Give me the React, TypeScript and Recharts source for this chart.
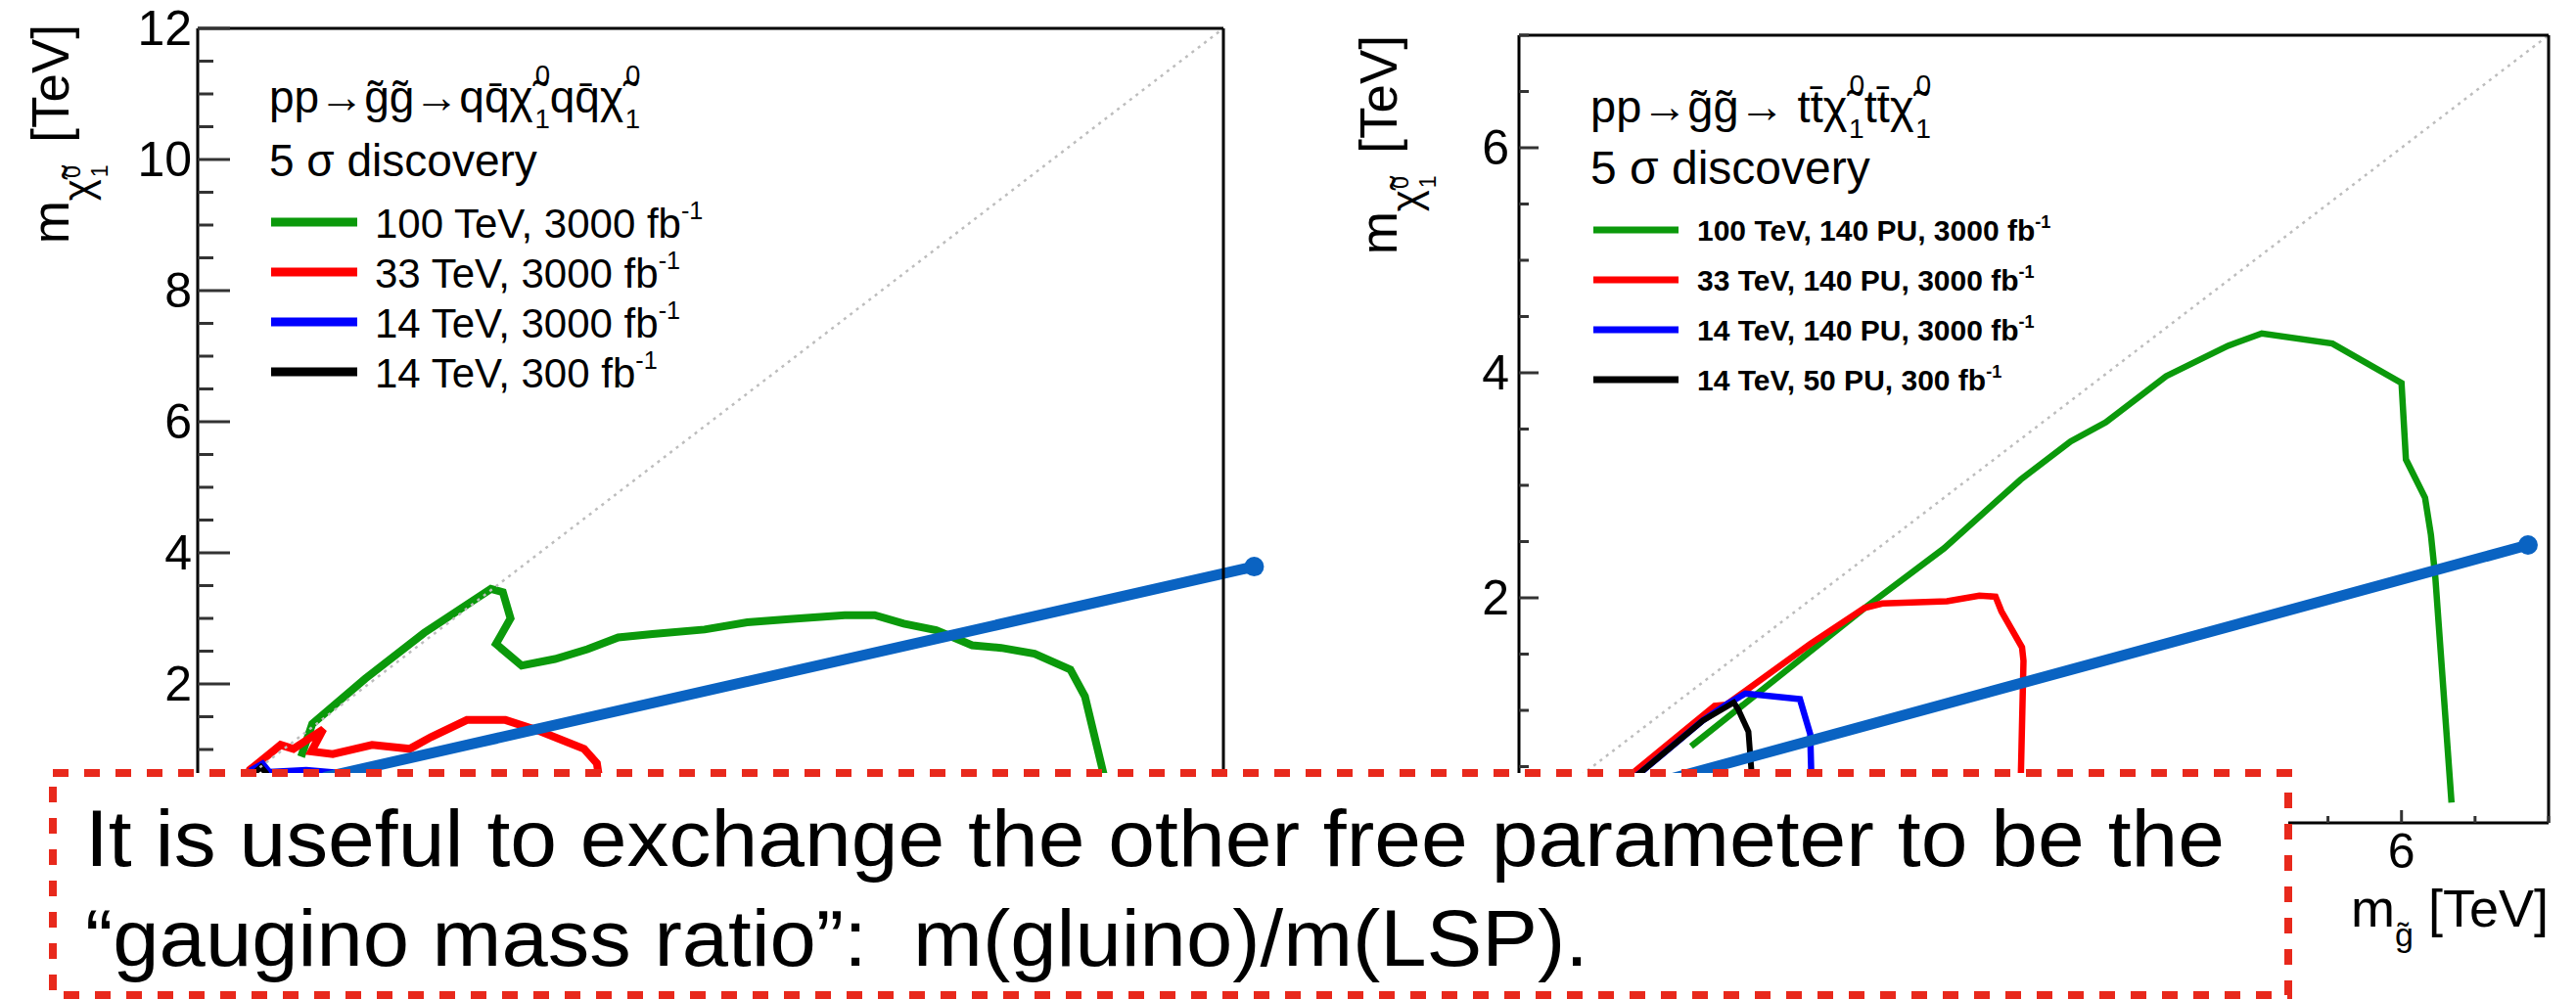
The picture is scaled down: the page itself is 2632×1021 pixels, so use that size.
import { LineChart, Line, XAxis, YAxis, ReferenceLine, ReferenceDot, Legend } from 'recharts';

const FONT = '"Liberation Sans", Arial, Helvetica, sans-serif';

// 5 sigma discovery contours, (m_gluino, m_LSP) in TeV
// gluino -> q qbar chi10
const qq100 = [[1.21, 0.89], [1.34, 1.39], [1.96, 2.08], [2.65, 2.78], [3.43, 3.45], [3.57, 3.4], [3.66, 3.0], [3.49, 2.61], [3.79, 2.28], [4.18, 2.38], [4.56, 2.53], [4.92, 2.71], [5.32, 2.76], [5.93, 2.83], [6.43, 2.94], [6.92, 2.99], [7.57, 3.05], [7.92, 3.05], [8.26, 2.92], [8.64, 2.82], [9.06, 2.59], [9.4, 2.55], [9.79, 2.46], [10.21, 2.22], [10.38, 1.81], [10.59, 0.67], [10.64, 0.4]];
const qq33 = [[0.55, 0.5], [0.61, 0.69], [0.97, 1.07], [1.12, 1.01], [1.47, 1.31], [1.33, 0.97], [1.58, 0.93], [2.04, 1.07], [2.48, 1.01], [2.73, 1.19], [3.15, 1.45], [3.6, 1.45], [3.98, 1.29], [4.52, 1.01], [4.67, 0.79], [4.71, 0.45]];
const qq14 = [[0.55, 0.5], [0.63, 0.69], [0.76, 0.79], [0.84, 0.66], [1.0, 0.67], [1.27, 0.69], [1.62, 0.65], [1.75, 0.45]];
const qq14low = [[0.62, 0.5], [0.66, 0.64], [0.74, 0.73], [0.8, 0.64], [0.84, 0.5]];

// gluino -> t tbar chi10
const tt100 = [[1.17, 0.68], [2.36, 1.92], [2.89, 2.44], [3.41, 3.05], [3.75, 3.39], [3.99, 3.56], [4.4, 3.97], [4.82, 4.24], [5.05, 4.35], [5.53, 4.26], [6.0, 3.91], [6.03, 3.23], [6.16, 2.89], [6.2, 2.56], [6.23, 2.18], [6.34, 0.18]];
const tt33 = [[0.62, 0.28], [0.77, 0.44], [1.33, 1.04], [1.41, 1.05], [1.98, 1.59], [2.35, 1.91], [2.47, 1.95], [2.91, 1.97], [3.13, 2.02], [3.24, 2.01], [3.28, 1.88], [3.42, 1.56], [3.43, 1.44], [3.41, 0.3]];
const tt14 = [[0.68, 0.3], [0.82, 0.44], [1.25, 0.91], [1.42, 1.06], [1.54, 1.15], [1.91, 1.1], [1.98, 0.79], [1.99, 0.3]];
const tt14low = [[0.68, 0.3], [0.82, 0.44], [1.25, 0.91], [1.46, 1.07], [1.49, 1.01], [1.56, 0.81], [1.59, 0.3]];

const qqLabels = ['100 TeV, 3000 fb', '33 TeV, 3000 fb', '14 TeV, 3000 fb', '14 TeV, 300 fb'];
const ttLabels = ['100 TeV, 140 PU, 3000 fb', '33 TeV, 140 PU, 3000 fb', '14 TeV, 140 PU, 3000 fb', '14 TeV, 50 PU, 300 fb'];
const seriesColors = ['#0b990b', '#ff0000', '#0000ff', '#000000'];

// m_LSP = m_gluino
const qqDiagonal = [[0, 0], [12, 12]];
const ttDiagonal = [[0, 0], [7, 7]];
// fixed gaugino mass ratio guide
const qqRatio = [[1.5, 0.58], [12.36, 3.79]];
const ttRatio = [[1.0, 0.38], [6.86, 2.47]];

// major ticks, and the ones that carry a printed number
const qqMajor = [0, 2, 4, 6, 8, 10, 12];
const ttMajor = [0, 2, 4, 6];
const qqYLabels = [2, 4, 6, 8, 10, 12];
const ttYLabels = [2, 4, 6];
const ttXLabels = [6];

const halfSteps = (max: number) => Array.from({ length: max * 2 + 1 }, (_, i) => i / 2);
const pts = (a: number[][]) => a.map(([x, y]) => ({ x, y }));

const RATIO_BLUE = '#0a63c2';
const frameLine = { stroke: '#000', strokeWidth: 3 };

type Side = 'bottom' | 'top' | 'left' | 'right';

function tickRenderer(side: Side, majors: number[], majorLen: number, minorLen: number, label?: { values: number[]; size: number; gap: number }) {
  return (props: any) => {
    const { x, y, payload } = props;
    const v = Number(payload.value);
    const isMajor = majors.includes(v);
    const len = isMajor ? majorLen : minorLen;
    const x2 = side === 'left' ? x + len : side === 'right' ? x - len : x;
    const y2 = side === 'bottom' ? y - len : side === 'top' ? y + len : y;
    const printed = label && label.values.includes(v);
    let text = null;
    if (printed && side === 'left') {
      text = (
        <text x={x - label.gap} y={y} textAnchor="end" dominantBaseline="central" fontSize={label.size} fontFamily={FONT} fill="#000">
          {v}
        </text>
      );
    }
    if (printed && side === 'bottom') {
      text = (
        <text x={x} y={y + label.gap} textAnchor="middle" fontSize={label.size} fontFamily={FONT} fill="#000">
          {v}
        </text>
      );
    }
    return (
      <g>
        <line x1={x} y1={y} x2={x2} y2={y2} stroke="#333" strokeWidth={3} />
        {text}
      </g>
    );
  };
}

// m_{chi~0_1} [TeV], rotated, ending at the top of the frame
function LspTitle({ bx, top }: { bx: number; top: number }) {
  return (
    <text x={bx} y={top} transform={`rotate(-90 ${bx} ${top})`} textAnchor="end" fontSize={53} fontFamily={FONT} fill="#000">
      m
      <tspan fontSize={42} dy={24}>{'\u03C7\u0303'}</tspan>
      <tspan fontSize={23} dx={1} dy={-12}>0</tspan>
      <tspan fontSize={23} dx={-12} dy={28}>1</tspan>
      <tspan fontSize={53} dx={8} dy={-40}>{' [TeV]'}</tspan>
    </text>
  );
}

function GluinoTitle({ right, baseline }: { right: number; baseline: number }) {
  return (
    <text x={right} y={baseline} textAnchor="end" fontSize={54} fontFamily={FONT} fill="#000">
      m
      <tspan fontSize={34} dy={20}>{'g\u0303'}</tspan>
      <tspan fontSize={54} dy={-20}>{' [TeV]'}</tspan>
    </text>
  );
}

interface LegendSpec {
  x: number;
  quark: string;
  gap: string;
  titleY: number;
  titleSize: number;
  subY: number;
  subSize: number;
  rowY: number;
  rowStep: number;
  lineX: number;
  lineLen: number;
  lineWidth: number;
  textX: number;
  textSize: number;
  bold: boolean;
  labels: string[];
  width: number;
  height: number;
}

function DecayLegend({ s }: { s: LegendSpec }) {
  const q = s.quark;
  const fs = s.titleSize;
  const small = fs * 0.6;
  const pair = `${q}${q}\u0304\u03C7\u0303`;
  return (
    <svg width={s.width} height={s.height} style={{ overflow: 'visible', display: 'block' }}>
      <text x={s.x} y={s.titleY} fontSize={fs} fontFamily={FONT} fill="#000">
        {'pp\u2192g\u0303g\u0303\u2192' + s.gap + pair}
        <tspan fontSize={small} dx={2} dy={-0.62 * fs}>0</tspan>
        <tspan fontSize={small} dx={-0.34 * fs} dy={0.97 * fs}>1</tspan>
        <tspan fontSize={fs} dy={-0.35 * fs}>{pair}</tspan>
        <tspan fontSize={small} dx={2} dy={-0.62 * fs}>0</tspan>
        <tspan fontSize={small} dx={-0.34 * fs} dy={0.97 * fs}>1</tspan>
      </text>
      <text x={s.x} y={s.subY} fontSize={s.subSize} fontFamily={FONT} fill="#000">
        {'5 \u03C3 discovery'}
      </text>
      {s.labels.map((lab, i) => {
        const cy = s.rowY + i * s.rowStep;
        return (
          <g key={lab}>
            <line x1={s.lineX} x2={s.lineX + s.lineLen} y1={cy} y2={cy} stroke={seriesColors[i]} strokeWidth={s.lineWidth} />
            <text x={s.textX} y={cy + s.textSize * 0.38} fontSize={s.textSize} fontWeight={s.bold ? 700 : 400} fontFamily={FONT} fill="#000">
              {lab}
              <tspan fontSize={s.textSize * 0.6} dy={-s.textSize * 0.45}>-1</tspan>
            </text>
          </g>
        );
      })}
    </svg>
  );
}

const qqLegend: LegendSpec = {
  x: 275, quark: 'q', gap: '', titleY: 115, titleSize: 46, subY: 180, subSize: 46,
  rowY: 227, rowStep: 51, lineX: 277, lineLen: 88, lineWidth: 9, textX: 383, textSize: 42, bold: false,
  labels: qqLabels, width: 1310, height: 893,
};

const ttLegend: LegendSpec = {
  x: 325, quark: 't', gap: ' ', titleY: 125, titleSize: 47, subY: 188, subSize: 48,
  rowY: 235, rowStep: 51, lineX: 328, lineLen: 87, lineWidth: 7, textX: 434, textSize: 30, bold: true,
  labels: ttLabels, width: 1324, height: 991,
};

function QqPanel() {
  const ticks = halfSteps(12);
  const series = [qq100, qq33, qq14, qq14low];
  return (
    <LineChart width={1310} height={893} margin={{ top: 9, right: 0, bottom: 0, left: 0 }}>
      <XAxis type="number" dataKey="x" domain={[0, 12]} ticks={ticks} interval={0} height={60}
        tickSize={0} tickMargin={0} tickLine={false} axisLine={frameLine}
        tick={tickRenderer('bottom', qqMajor, 22, 11)} />
      <XAxis xAxisId="top" orientation="top" type="number" dataKey="x" domain={[0, 12]} ticks={ticks} interval={0} height={20}
        tickSize={0} tickMargin={0} tickLine={false} axisLine={frameLine}
        tick={tickRenderer('top', qqMajor, 22, 11)} />
      <YAxis type="number" domain={[0, 12]} ticks={ticks} interval={0} width={202}
        tickSize={0} tickMargin={0} tickLine={false} axisLine={frameLine}
        tick={tickRenderer('left', qqMajor, 33, 16, { values: qqYLabels, size: 50, gap: 6 })}
        label={{ content: () => <LspTitle bx={70} top={25} /> }} />
      <YAxis yAxisId="right" orientation="right" type="number" domain={[0, 12]} ticks={ticks} interval={0} width={60}
        tickSize={0} tickMargin={0} tickLine={false} axisLine={frameLine}
        tick={tickRenderer('right', qqMajor, 33, 16)} />
      {series.map((s, i) => (
        <Line key={qqLabels[i]} name={qqLabels[i]} data={pts(s)} dataKey="y" type="linear" stroke={seriesColors[i]}
          strokeWidth={i < 2 ? 8 : 6} dot={false} activeDot={false} isAnimationActive={false} />
      ))}
      <ReferenceLine segment={pts(qqDiagonal)} stroke="#bdbdbd" strokeWidth={2.5} strokeDasharray="3 5" ifOverflow="visible" />
      <ReferenceLine segment={pts(qqRatio)} stroke={RATIO_BLUE} strokeWidth={11} strokeLinecap="round" ifOverflow="visible" />
      <ReferenceDot x={qqRatio[1][0]} y={qqRatio[1][1]} r={10} fill={RATIO_BLUE} stroke="none" ifOverflow="visible" />
      <Legend layout="vertical" align="center" verticalAlign="middle"
        wrapperStyle={{ left: 0, top: 0, width: 1310, height: 893 }}
        content={() => <DecayLegend s={qqLegend} />} />
    </LineChart>
  );
}

function TtPanel() {
  const xTicks = halfSteps(7);
  const yTicks = halfSteps(7);
  const series = [tt100, tt33, tt14, tt14low];
  return (
    <LineChart width={1324} height={991} margin={{ top: 16, right: 0, bottom: 0, left: 0 }}>
      <XAxis type="number" dataKey="x" domain={[0, 7]} ticks={xTicks} interval={0} height={150}
        tickSize={0} tickMargin={0} tickLine={false} axisLine={frameLine}
        tick={tickRenderer('bottom', ttMajor, 13, 7, { values: ttXLabels, size: 50, gap: 46 })}
        label={{ content: () => <GluinoTitle right={1304} baseline={947} /> }} />
      <XAxis xAxisId="top" orientation="top" type="number" dataKey="x" domain={[0, 7]} ticks={xTicks} interval={0} height={20}
        tickSize={0} tickMargin={0} tickLine={false} axisLine={frameLine}
        tick={tickRenderer('top', ttMajor, 12, 6)} />
      <YAxis type="number" domain={[0, 7]} ticks={yTicks} interval={0} width={252}
        tickSize={0} tickMargin={0} tickLine={false} axisLine={frameLine}
        tick={tickRenderer('left', ttMajor, 20, 10, { values: ttYLabels, size: 50, gap: 10 })}
        label={{ content: () => <LspTitle bx={127} top={36} /> }} />
      <YAxis yAxisId="right" orientation="right" type="number" domain={[0, 7]} ticks={yTicks} interval={0} width={20}
        tickSize={0} tickMargin={0} tickLine={false} axisLine={frameLine}
        tick={tickRenderer('right', ttMajor, 18, 10)} />
      {series.map((s, i) => (
        <Line key={ttLabels[i]} name={ttLabels[i]} data={pts(s)} dataKey="y" type="linear" stroke={seriesColors[i]}
          strokeWidth={i === 3 ? 6 : 6.5} dot={false} activeDot={false} isAnimationActive={false} />
      ))}
      <ReferenceLine segment={pts(ttDiagonal)} stroke="#bdbdbd" strokeWidth={2.5} strokeDasharray="3 5" ifOverflow="visible" />
      <ReferenceLine segment={pts(ttRatio)} stroke={RATIO_BLUE} strokeWidth={11} strokeLinecap="round" ifOverflow="visible" />
      <ReferenceDot x={ttRatio[1][0]} y={ttRatio[1][1]} r={10} fill={RATIO_BLUE} stroke="none" ifOverflow="visible" />
      <Legend layout="vertical" align="center" verticalAlign="middle"
        wrapperStyle={{ left: 0, top: 0, width: 1324, height: 991 }}
        content={() => <DecayLegend s={ttLegend} />} />
    </LineChart>
  );
}

export default function App() {
  return (
    <div style={{ position: 'absolute', left: 0, top: 0, width: 2632, height: 1021, background: '#fff', overflow: 'hidden' }}>
      <div style={{ position: 'absolute', left: 0, top: 0 }}>
        <QqPanel />
      </div>
      <div style={{ position: 'absolute', left: 1300, top: 0 }}>
        <TtPanel />
      </div>
      <svg width={2632} height={1021} style={{ position: 'absolute', left: 0, top: 0, pointerEvents: 'none' }}>
        <rect x={54} y={790} width={2284} height={227} fill="#fff" stroke="#e8291c" strokeWidth={8} strokeDasharray="16 16" />
        <text x={87} y={885} fontSize={81} fontFamily={FONT} fill="#000" textLength={2186} lengthAdjust="spacingAndGlyphs">
          It is useful to exchange the other free parameter to be the
        </text>
        <text x={87} y={987} fontSize={81} fontFamily={FONT} fill="#000" textLength={1536} lengthAdjust="spacingAndGlyphs" style={{ whiteSpace: 'pre' }}>
          {'\u201Cgaugino mass ratio\u201D:  m(gluino)/m(LSP).'}
        </text>
      </svg>
    </div>
  );
}
